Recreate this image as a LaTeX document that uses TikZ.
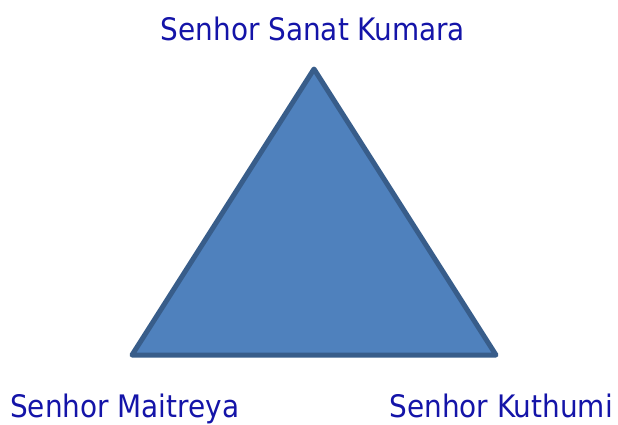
\documentclass[tikz,border=0pt]{standalone}
\usepackage{fontspec}
\setmainfont{DejaVu Sans Condensed}
\definecolor{txtblue}{HTML}{1414A8}
\definecolor{trifill}{HTML}{4F81BD}
\definecolor{tristroke}{HTML}{385D8A}
\tikzset{
  lbl/.style={text=txtblue, font=\fontsize{31}{36}\selectfont, inner sep=0pt, anchor=base},
  tri/.style={fill=trifill, draw=tristroke, line width=5pt, line join=round}
}
\begin{document}
\begin{tikzpicture}[x=1pt,y=-1pt]
\useasboundingbox (0,0) rectangle (618,424);
\coordinate (top) at (314,69);
\coordinate (bl) at (132,355);
\coordinate (br) at (496,355);
\draw[tri] (top) -- (br) -- (bl) -- cycle;
\node[lbl] (kumara) at (313,40) {Senhor Sanat Kumara};
\node[lbl, anchor=base west] (maitreya) at (10,417) {Senhor Maitreya};
\node[lbl, anchor=base east] (kuthumi) at (613,417) {Senhor Kuthumi};
\end{tikzpicture}
\end{document}
